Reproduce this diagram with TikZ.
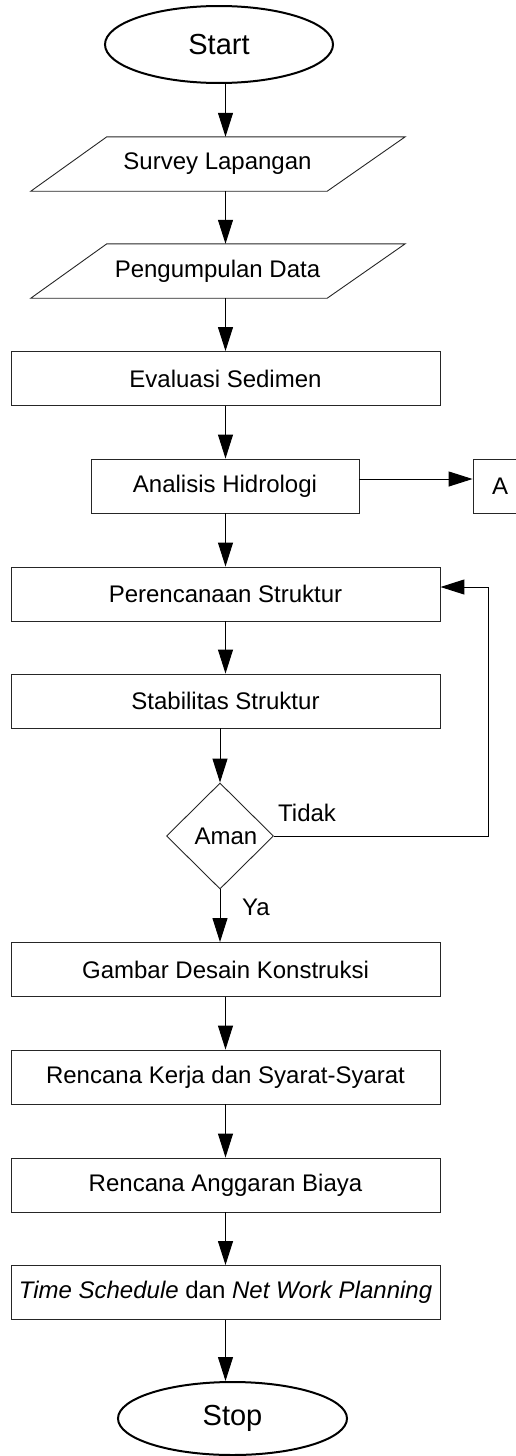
\documentclass[tikz,border=0pt]{standalone}
\usepackage{fontspec}
\setmainfont{Liberation Sans}
\usetikzlibrary{arrows.meta,shapes.geometric,calc}
\begin{document}
\begin{tikzpicture}[x=1pt,y=-1pt,
  txt/.style={font=\fontsize{24}{28}\selectfont},
  box/.style={txt, draw=black!85, line width=0.9pt, minimum width=429pt, minimum height=54pt, inner sep=0pt},
  term/.style={draw=black, ellipse, line width=2pt, inner sep=0pt, font=\fontsize{29}{34}\selectfont},
  paranode/.style={txt, minimum width=297pt, minimum height=54pt, inner sep=0pt},
  pline/.style={draw=black!85, line width=0.9pt},
  decision/.style={txt, draw=black!85, line width=0.9pt, diamond, minimum width=107pt, minimum height=106pt, inner sep=0pt},
  arr/.style={draw=black, line width=1pt, -{Triangle[length=24pt,width=15pt]}}
]
\useasboundingbox (0,0) rectangle (516,1456);

\node[term, minimum width=228pt, minimum height=77pt] (start) at (219,44.5) {Start};
\node[paranode] (survey) at (217.5,164) {Survey Lapangan};
\draw[pline] ($(survey.north west)+(38,0)$) -- ($(survey.north east)+(39,0)$) -- ($(survey.south east)+(-39,0)$) -- ($(survey.south west)+(-38,0)$) -- cycle;
\node[paranode] (peng) at (217.5,271) {Pengumpulan Data};
\draw[pline] ($(peng.north west)+(38,0)$) -- ($(peng.north east)+(39,0)$) -- ($(peng.south east)+(-39,0)$) -- ($(peng.south west)+(-38,0)$) -- cycle;
\node[box] (eval) at (225.5,378.5) {Evaluasi Sedimen};
\node[box, minimum width=268pt] (anal) at (225,486) {Analisis Hidrologi};
\node[box, minimum width=54pt] (A) at (500,486) {A};
\node[box] (peren) at (225.5,594) {Perencanaan Struktur};
\node[box] (stab) at (225.5,701) {Stabilitas Struktur};
\node[decision] (aman) at (220,836) {\hspace*{12pt}Aman};
\node[txt, anchor=west, inner sep=0pt] (tidak) at (278,813) {Tidak};
\node[txt, anchor=west, inner sep=0pt] (ya) at (242,907) {Ya};
\node[box] (gambar) at (225.5,969.5) {Gambar Desain Konstruksi};
\node[box] (kerja) at (225.5,1077) {Rencana Kerja dan Syarat-Syarat};
\node[box] (biaya) at (225.5,1185) {Rencana Anggaran Biaya};
\node[box] (time) at (225.5,1292.5) {\textit{Time Schedule} dan \textit{Net Work Planning}};
\node[term, minimum width=229pt, minimum height=73pt] (stop) at (232.5,1418.5) {Stop};

\coordinate (fb) at (488,587);

\draw[arr] (start.south -| eval.north) -- (survey.north -| eval.north);
\draw[arr] (survey.south -| eval.north) -- (peng.north -| eval.north);
\draw[arr] (peng.south -| eval.north) -- (eval.north);
\draw[arr] (eval.south) -- (anal.north -| eval.south);
\draw[arr] ($(anal.east)+(0,-7)$) -- ($(A.west)+(0,-7)$);
\draw[arr] (anal.south -| peren.north) -- (peren.north);
\draw[arr] (peren.south) -- (stab.north);
\draw[arr] (stab.south -| aman.north) -- (aman.north);
\draw[arr] (aman.east) -| (fb) -- (fb -| peren.east);
\draw[arr] (aman.south) -- (gambar.north -| aman.south);
\draw[arr] (gambar.south) -- (kerja.north);
\draw[arr] (kerja.south) -- (biaya.north);
\draw[arr] (biaya.south) -- (time.north);
\draw[arr] (time.south) -- (time.south |- stop.north);
\end{tikzpicture}
\end{document}
